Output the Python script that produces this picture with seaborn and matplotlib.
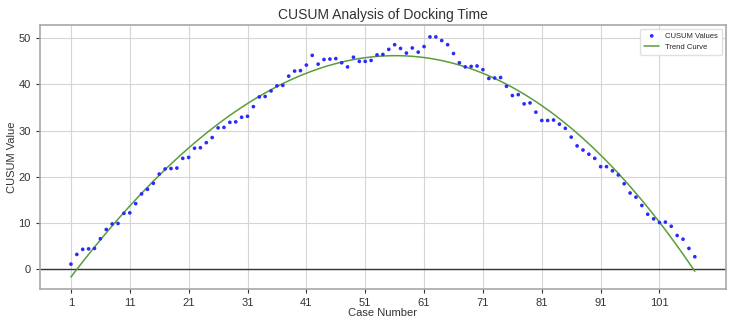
import numpy as np
import pandas as pd
import matplotlib
matplotlib.use("Agg")
import matplotlib.pyplot as plt
import seaborn as sns

cases = list(range(1, 108))
cusum = [
    1.1, 3.2, 4.3, 4.4, 4.5, 6.6, 8.6, 9.8, 9.9, 12.1,
    12.2, 14.2, 16.3, 17.3, 18.6, 20.6, 21.7, 21.8, 21.9, 24.0,
    24.2, 26.2, 26.3, 27.4, 28.5, 30.6, 30.7, 31.8, 31.9, 32.9,
    33.1, 35.2, 37.3, 37.4, 38.6, 39.7, 39.8, 41.8, 42.9, 43.0,
    44.2, 46.3, 44.4, 45.4, 45.5, 45.6, 44.7, 43.8, 45.9, 45.0,
    45.0, 45.2, 46.4, 46.5, 47.6, 48.6, 47.8, 46.8, 47.9, 47.0,
    48.2, 50.3, 50.3, 49.5, 48.6, 46.7, 44.7, 43.8, 43.9, 44.0,
    43.2, 41.3, 41.4, 41.5, 39.6, 37.6, 37.8, 35.8, 36.0, 34.0,
    32.2, 32.2, 32.3, 31.4, 30.5, 28.6, 26.7, 25.8, 24.9, 24.0,
    22.2, 22.2, 21.3, 20.4, 18.5, 16.5, 15.6, 13.8, 11.9, 10.9,
    10.1, 10.2, 9.3, 7.3, 6.5, 4.5, 2.7,
]
xtick_vals = list(range(1, 108, 10))

df = pd.DataFrame({"Case Number": cases, "CUSUM Value": cusum})
coef = np.polyfit(df["Case Number"], df["CUSUM Value"], 3)
df["Trend"] = np.polyval(coef, df["Case Number"])

sns.set_style("whitegrid")
plt.rcParams["font.family"] = ["Liberation Sans", "DejaVu Sans"]

fig = plt.figure(figsize=(7.5, 3.19), dpi=100)
ax = fig.add_axes([0.053, 0.094, 0.915, 0.828])

sns.scatterplot(data=df, x="Case Number", y="CUSUM Value", ax=ax, color="#2a2aff",
                s=7, edgecolor="none", label="CUSUM Values", zorder=3)
sns.lineplot(data=df, x="Case Number", y="Trend", ax=ax, color="#5a9e3a",
             linewidth=1.1, label="Trend Curve", zorder=2)
ax.axhline(0, color="#333333", linewidth=1.0, zorder=1)

ax.set_xticks(xtick_vals)
ax.set_yticks([0, 10, 20, 30, 40, 50])
ax.tick_params(axis="both", labelsize=8, colors="#333333", length=3, width=0.8,
               left=True, bottom=True)
ax.grid(True, color="#d5d5d5", linewidth=0.8)
for sp in ax.spines.values():
    sp.set_color("#a8a8a8")
    sp.set_linewidth(1.2)

ax.set_title("CUSUM Analysis of Docking Time", fontsize=10, color="#333333", pad=4)
ax.set_xlabel("Case Number", fontsize=8, color="#333333", labelpad=0)
ax.set_ylabel("CUSUM Value", fontsize=8, color="#333333", labelpad=1)

leg = ax.legend(loc="upper right", fontsize=5.5, frameon=True, framealpha=0.9,
                markerscale=1.0, borderpad=0.5)
leg.get_frame().set_edgecolor("#dddddd")

fig.savefig("out.png", dpi=100)
